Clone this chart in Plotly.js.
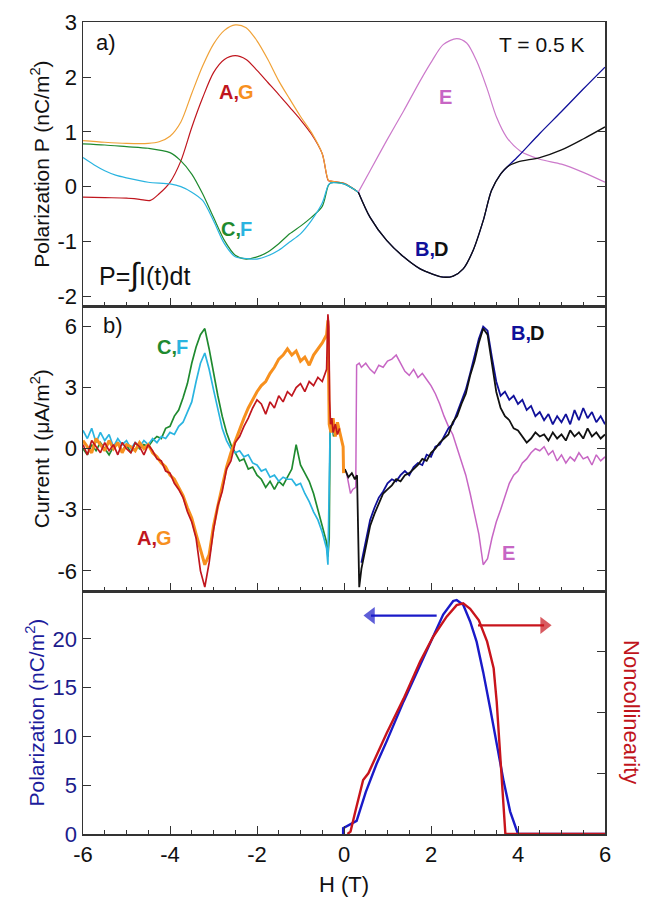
<!DOCTYPE html>
<html>
<head>
<meta charset="utf-8">
<script src="https://cdn.plot.ly/plotly-3.0.1.min.js"></script>
<style>html,body{margin:0;padding:0;background:#fff;}#chart{width:662px;height:901px;}</style>
</head>
<body>
<div id="chart"></div>
<script>
// ---------- Panel a) : polarization P (nC/m^2) vs H (T) ----------
const pA_H = [-6,-5.5,-5,-4.7,-4.45,-4.25,-4.0,-3.75,-3.5,-3.25,-3.0,-2.75,-2.5,-2.25,-2.0,-1.75,-1.5,-1.25,-1.0,-0.75,-0.5,-0.36,-0.3,0,0.33];
const pA_P = [-0.19,-0.2,-0.21,-0.23,-0.25,-0.13,0.08,0.47,1.08,1.62,2.08,2.32,2.39,2.32,2.12,1.9,1.68,1.45,1.22,0.96,0.6,0.11,0.1,0.06,-0.1];
const pG_H = [-6,-5.5,-5,-4.5,-4.25,-4.0,-3.75,-3.5,-3.25,-3.0,-2.75,-2.5,-2.25,-2.0,-1.75,-1.5,-1.25,-1.0,-0.75,-0.5,-0.36,-0.3,0,0.33];
const pG_P = [0.84,0.81,0.79,0.79,0.82,0.92,1.18,1.7,2.2,2.6,2.85,2.95,2.9,2.66,2.32,1.93,1.6,1.28,0.99,0.6,0.12,0.1,0.06,-0.1];
const pC_H = [-6,-5.5,-5,-4.5,-4.0,-3.75,-3.5,-3.25,-3.0,-2.75,-2.5,-2.25,-2.0,-1.75,-1.5,-1.25,-1.0,-0.75,-0.5,-0.36,-0.3,0,0.33];
const pC_P = [0.78,0.76,0.73,0.7,0.62,0.47,0.23,-0.13,-0.56,-0.98,-1.25,-1.32,-1.28,-1.19,-1.04,-0.86,-0.72,-0.56,-0.36,0.02,0.07,0.05,-0.1];
const pF_H = [-6,-5.75,-5.5,-5.25,-5,-4.5,-4.0,-3.75,-3.5,-3.25,-3.0,-2.75,-2.5,-2.25,-2.0,-1.75,-1.5,-1.25,-1.0,-0.75,-0.5,-0.36,-0.3,0,0.33];
const pF_P = [0.53,0.4,0.29,0.21,0.16,0.08,0.05,0.0,-0.1,-0.25,-0.62,-1.04,-1.28,-1.31,-1.32,-1.26,-1.16,-1.01,-0.86,-0.62,-0.3,0.03,0.07,0.05,-0.1];
const pB_H = [0.33,0.6,0.98,1.37,1.75,2.02,2.28,2.51,2.74,2.97,3.2,3.39,3.6,4.0,4.5,5.0,5.5,6.0];
const pB_P = [-0.1,-0.56,-0.98,-1.28,-1.5,-1.59,-1.65,-1.63,-1.5,-1.16,-0.62,-0.07,0.23,0.55,0.97,1.37,1.78,2.18];
const pD_H = [0.33,0.6,0.98,1.37,1.75,2.02,2.28,2.51,2.74,2.97,3.2,3.39,3.6,3.75,4.0,4.5,5.0,5.5,6.0];
const pD_P = [-0.1,-0.56,-0.98,-1.28,-1.5,-1.59,-1.65,-1.63,-1.5,-1.16,-0.62,-0.07,0.23,0.36,0.45,0.53,0.67,0.87,1.09];
const pE_H = [0.33,0.6,0.98,1.37,1.75,2.02,2.28,2.59,2.82,3.05,3.28,3.51,3.74,4.05,4.5,5.0,5.5,6.0];
const pE_P = [-0.1,0.29,0.84,1.38,1.93,2.29,2.59,2.7,2.62,2.29,1.81,1.26,0.9,0.65,0.5,0.41,0.26,0.08];

// ---------- Panel b) : current I (uA/m^2) vs H (T) ----------
const hNeg = [-6.0,-5.9,-5.8,-5.7,-5.6,-5.5,-5.4,-5.3,-5.2,-5.1,-5.0,-4.9,-4.8,-4.7,-4.6,-4.5,-4.4,-4.3,-4.2,-4.1,-4.0,-3.9,-3.8,-3.7,-3.6,-3.5,-3.4,-3.3,-3.2,-3.1,-3.0,-2.9,-2.8,-2.7,-2.6,-2.5,-2.4,-2.3,-2.2,-2.1,-2.0,-1.9,-1.8,-1.7,-1.6,-1.5,-1.4,-1.3,-1.2,-1.1,-1.0,-0.9,-0.8,-0.7,-0.6,-0.5,-0.4];
const iA = [0.2,-0.3,0.4,0.1,-0.2,0.3,-0.1,0.2,-0.3,0.3,0.0,-0.2,0.3,0.1,-0.3,0.2,-0.1,-0.5,-0.6,-1.1,-1.2,-1.7,-2.0,-2.4,-3.1,-3.6,-4.4,-6.0,-6.8,-5.6,-4.0,-2.8,-2.1,-1.0,-0.6,0.3,0.6,1.1,1.5,2.0,2.4,2.2,1.7,2.3,2.0,2.6,2.3,2.8,2.6,3.0,3.2,2.8,3.3,3.1,3.5,3.3,3.9];
const iG = [0.4,0.1,-0.2,0.5,0.2,-0.1,0.4,0.0,0.3,-0.2,0.2,0.1,-0.1,0.3,0.0,0.2,-0.2,-0.4,-0.7,-0.9,-1.3,-1.5,-1.9,-2.3,-2.9,-3.4,-4.2,-5.0,-5.7,-5.2,-3.8,-2.8,-1.8,-0.9,-0.2,0.4,0.9,1.5,2.0,2.4,2.8,3.1,3.3,3.7,4.0,4.4,4.6,4.9,4.6,4.8,4.3,4.5,4.1,4.6,4.9,5.2,5.6];
const iC = [0.0,-0.3,0.2,-0.1,0.3,0.0,-0.3,0.1,0.3,-0.1,0.2,-0.2,0.3,0.0,0.2,0.1,0.4,0.6,0.5,1.0,1.1,1.6,1.9,2.5,3.2,4.2,5.0,5.6,5.9,4.9,3.7,2.6,1.6,0.8,0.2,-0.2,-0.6,-0.5,-1.0,-0.9,-1.3,-1.5,-1.9,-1.6,-2.0,-1.6,-1.8,-1.4,-1.0,0.2,-0.8,-1.2,-1.6,-2.2,-3.0,-3.8,-4.6];
const iF = [0.9,0.5,1.0,0.3,0.8,0.4,0.7,0.1,0.5,0.2,0.4,0.0,0.3,0.1,0.4,0.2,0.5,0.3,0.6,0.5,0.8,0.7,1.1,1.3,1.8,2.3,3.3,4.2,4.7,3.9,2.9,1.9,1.0,0.4,0.0,-0.2,-0.1,-0.4,-0.3,-0.7,-0.8,-1.1,-1.0,-1.4,-1.3,-1.6,-1.4,-1.5,-1.5,-1.8,-1.7,-2.2,-2.6,-3.1,-3.5,-4.1,-4.9];
const aTailH = [-0.37,-0.35,-0.33,-0.31,-0.28,-0.25,-0.2,-0.15,-0.1];
const aTailI = [6.6,6.0,2.4,1.2,1.5,0.8,1.2,0.7,1.0];
const gTailH = [-0.37,-0.34,-0.3,-0.25,-0.2,-0.15,-0.1,-0.05,-0.02,-0.01];
const gTailI = [6.3,1.2,0.8,1.5,0.6,1.3,0.8,0.3,0.1,-1.2];
const cTailH = [-0.37,-0.34,-0.32,-0.28,-0.24,-0.2];
const cTailI = [-5.3,-4.4,0.9,1.3,0.6,1.1];
const fTailH = [-0.37,-0.34,-0.32,-0.28,-0.24,-0.2];
const fTailI = [-5.7,-2.6,0.8,1.2,0.7,1.0];

const hPos = [0.4,0.5,0.6,0.7,0.8,0.9,1.0,1.1,1.2,1.3,1.4,1.5,1.6,1.7,1.8,1.9,2.0,2.1,2.2,2.3,2.4,2.5,2.6,2.7,2.8,2.9,3.0,3.1,3.2,3.3,3.4,3.5,3.6,3.7,3.8,3.9,4.0,4.1,4.2,4.3,4.4,4.5,4.6,4.7,4.8,4.9,5.0,5.1,5.2,5.3,5.4,5.5,5.6,5.7,5.8,5.9,6.0];
const iD = [-5.9,-4.8,-3.8,-3.2,-2.7,-2.2,-2.0,-1.8,-1.5,-1.6,-1.3,-1.2,-1.0,-0.8,-0.5,-0.6,-0.2,0.0,0.3,0.5,0.7,1.3,1.6,2.2,2.7,3.6,4.3,5.2,5.9,5.6,4.2,2.8,2.0,1.6,1.4,1.0,0.9,0.6,0.3,0.5,0.8,0.6,0.7,0.4,0.8,0.5,0.7,0.4,0.9,0.6,0.8,0.5,1.0,0.6,0.8,0.5,0.7];
const iB = [-5.6,-4.5,-3.5,-2.9,-2.4,-2.1,-1.7,-1.5,-1.6,-1.3,-1.1,-1.3,-0.9,-0.7,-0.8,-0.3,-0.4,0.1,0.2,0.6,1.0,1.2,1.8,2.3,2.9,3.7,4.5,5.4,6.0,5.8,4.5,3.3,2.6,2.8,2.4,2.6,2.2,2.4,1.9,2.1,1.6,1.8,1.4,1.7,1.2,1.6,1.3,1.7,1.2,1.9,1.4,2.0,1.5,1.8,1.3,1.6,1.2];
const iE = [4.0,4.2,3.9,3.7,4.1,4.0,4.3,4.4,4.6,4.2,3.8,3.6,3.9,3.5,3.7,3.4,3.1,2.7,2.2,1.6,1.1,0.7,0.0,-0.6,-1.3,-2.2,-3.2,-4.2,-5.7,-5.4,-4.4,-3.6,-3.0,-2.4,-1.7,-1.3,-1.1,-0.7,-0.5,-0.2,0.0,-0.1,0.1,-0.3,-0.1,-0.6,-0.3,-0.7,-0.4,-0.6,-0.2,-0.5,-0.4,-0.8,-0.3,-0.6,-0.4];
const dHeadH = [0.02,0.1,0.18,0.25,0.3,0.35];
const dHeadI = [-1.0,-1.4,-1.2,-1.5,-1.3,-6.8];
const eHeadH = [0.05,0.1,0.15,0.2,0.27,0.29,0.35];
const eHeadI = [-1.1,-1.6,-2.2,-2.0,-1.9,4.1,4.2];

// ---------- Bottom panel: polarization & noncollinearity ----------
const polH = [-0.02,-0.02,0.29,0.5,0.75,0.98,1.37,1.75,2.05,2.28,2.51,2.59,2.74,2.9,3.05,3.2,3.36,3.51,3.67,3.82,3.97,4.0,6.0];
const polP = [0.0,0.6,1.35,4.3,7.2,9.5,13.6,17.3,20.1,22.5,23.9,24.0,23.5,21.8,19.7,16.6,12.9,9.1,5.4,2.3,0.24,0.0,0.0];
const ncH = [0.08,0.15,0.27,0.37,0.44,0.56,0.75,0.98,1.37,1.75,2.05,2.36,2.59,2.74,2.9,3.1,3.29,3.44,3.51,3.59,3.67,3.71,6.0];
const ncN = [0.0,0.04,0.4,0.72,0.89,1.0,1.3,1.66,2.23,2.84,3.25,3.58,3.77,3.8,3.71,3.52,3.17,2.73,2.18,1.36,0.48,0.0,0.0];
// arrows (H, polarization-scale y)
const arrowBlueH = [2.13,0.62];
const arrowBlueY = [22.4,22.4];
const arrowRedH = [3.08,4.6];
const arrowRedY = [21.4,21.4];

// tick labels
const xTickVals = [-6,-4,-2,0,2,4,6];
const xTickText = ['-6','-4','-2','0','2','4','6'];
const pTickVals = [-2,-1,0,1,2,3];
const pTickText = ['-2','-1','0','1','2','3'];
const iTickVals = [-6,-3,0,3,6];
const iTickText = ['-6','-3','0','3','6'];
const polTickVals = [0,5,10,15,20];
const ncTickVals = [1,2,3];

const cRed='#c0161e', cOrangeTop='#f0a238', cOrange='#f7901e', cGreen='#1f8a2f', cCyan='#2ab4e0',
      cBlue='#10109a', cBlack='#111111', cPinkTop='#cc7acb', cPink='#c766c4';
const cPolBlue='#1a1ac8', cNcRed='#c8141c';

function ln(x,y,xa,ya,color,w,shape){return {x:x,y:y,xaxis:xa,yaxis:ya,type:'scatter',mode:'lines',
  line:{color:color,width:w,shape:shape||'linear',smoothing:0.8},hoverinfo:'skip'};}
function arrow(x,y,color,sym){return {x:x,y:y,xaxis:'x',yaxis:'y3',type:'scatter',mode:'lines+markers',
  line:{color:color,width:2.2},marker:{color:color,size:[0,15],symbol:['circle',sym],line:{width:0}},hoverinfo:'skip'};}

const traces = [
  ln(pA_H,pA_P,'x3','y',cRed,1.2,'spline'),
  ln(pG_H,pG_P,'x3','y',cOrangeTop,1.2,'spline'),
  ln(pC_H,pC_P,'x3','y',cGreen,1.2,'spline'),
  ln(pF_H,pF_P,'x3','y',cCyan,1.2,'spline'),
  ln(pE_H,pE_P,'x3','y',cPinkTop,1.2,'spline'),
  ln(pB_H,pB_P,'x3','y',cBlue,1.3,'spline'),
  ln(pD_H,pD_P,'x3','y',cBlack,1.3,'spline'),

  ln(eHeadH.concat(hPos),eHeadI.concat(iE),'x2','y2',cPink,1.5),
  ln(hPos,iB,'x2','y2',cBlue,1.8),
  ln(dHeadH.concat(hPos),dHeadI.concat(iD),'x2','y2',cBlack,1.8),
  ln(hNeg.concat(cTailH),iC.concat(cTailI),'x2','y2',cGreen,1.7),
  ln(hNeg.concat(fTailH),iF.concat(fTailI),'x2','y2',cCyan,1.7),
  ln(hNeg.concat(gTailH),iG.concat(gTailI),'x2','y2',cOrange,3.0),
  ln(hNeg.concat(aTailH),iA.concat(aTailI),'x2','y2',cRed,1.7),

  ln(polH,polP,'x','y3',cPolBlue,2.4),
  ln(ncH,ncN,'x','y4',cNcRed,2.4),
  arrow(arrowBlueH,arrowBlueY,cPolBlue,'triangle-left'),
  arrow(arrowRedH,arrowRedY,cNcRed,'triangle-right')
];

const F = 'Liberation Sans, Arial, sans-serif';
const axLine = '#333';
const TF = 22;
function xax(anchor,labels){return {anchor:anchor,domain:[0,1],range:[-6,6],tickvals:xTickVals,ticktext:xTickText,ticks:'inside',ticklen:8,tickwidth:1,tickcolor:axLine,
  minor:{dtick:0.5,tick0:-6,ticks:'inside',ticklen:4,tickcolor:axLine},showline:true,linecolor:axLine,linewidth:1.5,mirror:true,
  showgrid:false,zeroline:false,showticklabels:labels,tickfont:{family:F,size:TF,color:'#111'}};}

const bx = xax('y3',true);
bx.title = {text:'H (T)',font:{family:F,size:22,color:'#111'},standoff:10};

// two-colour bold labels: left part anchored right, right part anchored left at the same point
function pair(xr,yr,x,y,t1,c1,t2,c2){return [
  {xref:xr,yref:yr,x:x,y:y,xanchor:'right',xshift:2.5,text:'<b>'+t1+'</b>',showarrow:false,font:{family:F,size:20,color:c1}},
  {xref:xr,yref:yr,x:x,y:y,xanchor:'left',xshift:-2.5,text:'<b>'+t2+'</b>',showarrow:false,font:{family:F,size:20,color:c2}}];}

const annotations = [
    {xref:'x3',yref:'y',x:-5.47,y:2.63,text:'a)',showarrow:false,font:{family:F,size:22,color:'#111'}},
    {xref:'x3',yref:'y',x:4.53,y:2.6,text:'T = 0.5 K',showarrow:false,font:{family:F,size:21,color:'#111'}},
    {xref:'x3',yref:'y',x:2.34,y:1.64,text:'<b>E</b>',showarrow:false,font:{family:F,size:20,color:cPink}},
    {xref:'x3',yref:'y',x:-5.68,y:-1.6,xanchor:'left',yanchor:'middle',text:'P=<span style="font-size:32px">∫</span>I(t)dt',showarrow:false,font:{family:F,size:25,color:'#111'}},
    {xref:'x2',yref:'y2',x:-5.31,y:6.05,text:'b)',showarrow:false,font:{family:F,size:22,color:'#111'}},
    {xref:'x2',yref:'y2',x:3.77,y:-5.12,text:'<b>E</b>',showarrow:false,font:{family:F,size:20,color:cPink}},
    {xref:'paper',yref:'paper',x:1.052,y:0.150,xanchor:'center',yanchor:'middle',text:'Noncollinearity',textangle:90,showarrow:false,font:{family:F,size:22,color:'#c0141c'}}
  ].concat(
    pair('x3','y',-2.42,1.72,'A,',cRed,'G',cOrange),
    pair('x3','y',-2.39,-0.78,'C,',cGreen,'F',cCyan),
    pair('x3','y',2.08,-1.13,'B,',cBlue,'D','#111'),
    pair('x2','y2',-3.86,5.02,'C,',cGreen,'F',cCyan),
    pair('x2','y2',-4.31,-4.38,'A,',cRed,'G',cOrange),
    pair('x2','y2',4.29,5.7,'B,',cBlue,'D','#111')
  );

const layout = {
  width:662,height:901,
  margin:{l:83,r:57,t:22,b:67},
  paper_bgcolor:'#ffffff',plot_bgcolor:'#ffffff',
  showlegend:false,hovermode:false,
  font:{family:F,size:20,color:'#111'},
  xaxis:bx,
  xaxis2:Object.assign(xax('y2',false),{matches:'x'}),
  xaxis3:Object.assign(xax('y',false),{matches:'x'}),
  yaxis:{domain:[0.650,1],anchor:'x3',range:[-2.18,3.003],tickvals:pTickVals,ticktext:pTickText,ticks:'inside',ticklen:8,tickcolor:axLine,
    showline:true,linecolor:axLine,linewidth:1.5,mirror:'ticks',showgrid:false,zeroline:false,
    tickfont:{family:F,size:TF,color:'#111'},
    title:{text:'Polarization P (nC/m<sup>2</sup>)',font:{family:F,size:21,color:'#111'},standoff:2}},
  yaxis2:{domain:[0.299,0.650],anchor:'x2',range:[-7,7],tickvals:iTickVals,ticktext:iTickText,ticks:'inside',ticklen:8,tickcolor:axLine,
    showline:true,linecolor:axLine,linewidth:1.5,mirror:'ticks',showgrid:false,zeroline:false,
    tickfont:{family:F,size:TF,color:'#111'},
    title:{text:'Current I (μA/m<sup>2</sup>)',font:{family:F,size:21,color:'#111'},standoff:2}},
  yaxis3:{domain:[0,0.299],anchor:'x',range:[0,24.9],tickvals:polTickVals,ticks:'inside',ticklen:8,tickcolor:axLine,
    showline:true,linecolor:axLine,linewidth:1.5,mirror:false,showgrid:false,zeroline:false,
    tickfont:{family:F,size:TF,color:'#1c1c8c'},
    title:{text:'Polarization (nC/m<sup>2</sup>)',font:{family:F,size:21,color:'#1c1c9c'},standoff:2}},
  yaxis4:{overlaying:'y3',side:'right',anchor:'x',range:[0,4],tickvals:ncTickVals,ticks:'inside',ticklen:8,tickcolor:axLine,
    showline:true,linecolor:axLine,linewidth:1.5,showticklabels:false,showgrid:false,zeroline:false,
    tickfont:{family:F,size:TF,color:'#111'}},
  annotations:annotations
};

Plotly.newPlot('chart',traces,layout,{staticPlot:true,displayModeBar:false}).then(function(){
  var tester = document.getElementById('js-plotly-tester');
  if (tester) tester.remove();
  document.querySelectorAll('text').forEach(function(t){
    var empty = !t.textContent.trim();
    var zero = false;
    try { var b = t.getBBox(); zero = (b.width === 0 || b.height === 0); } catch (e) { zero = false; }
    if (empty || zero) t.remove();
  });
});
</script>
</body>
</html>
